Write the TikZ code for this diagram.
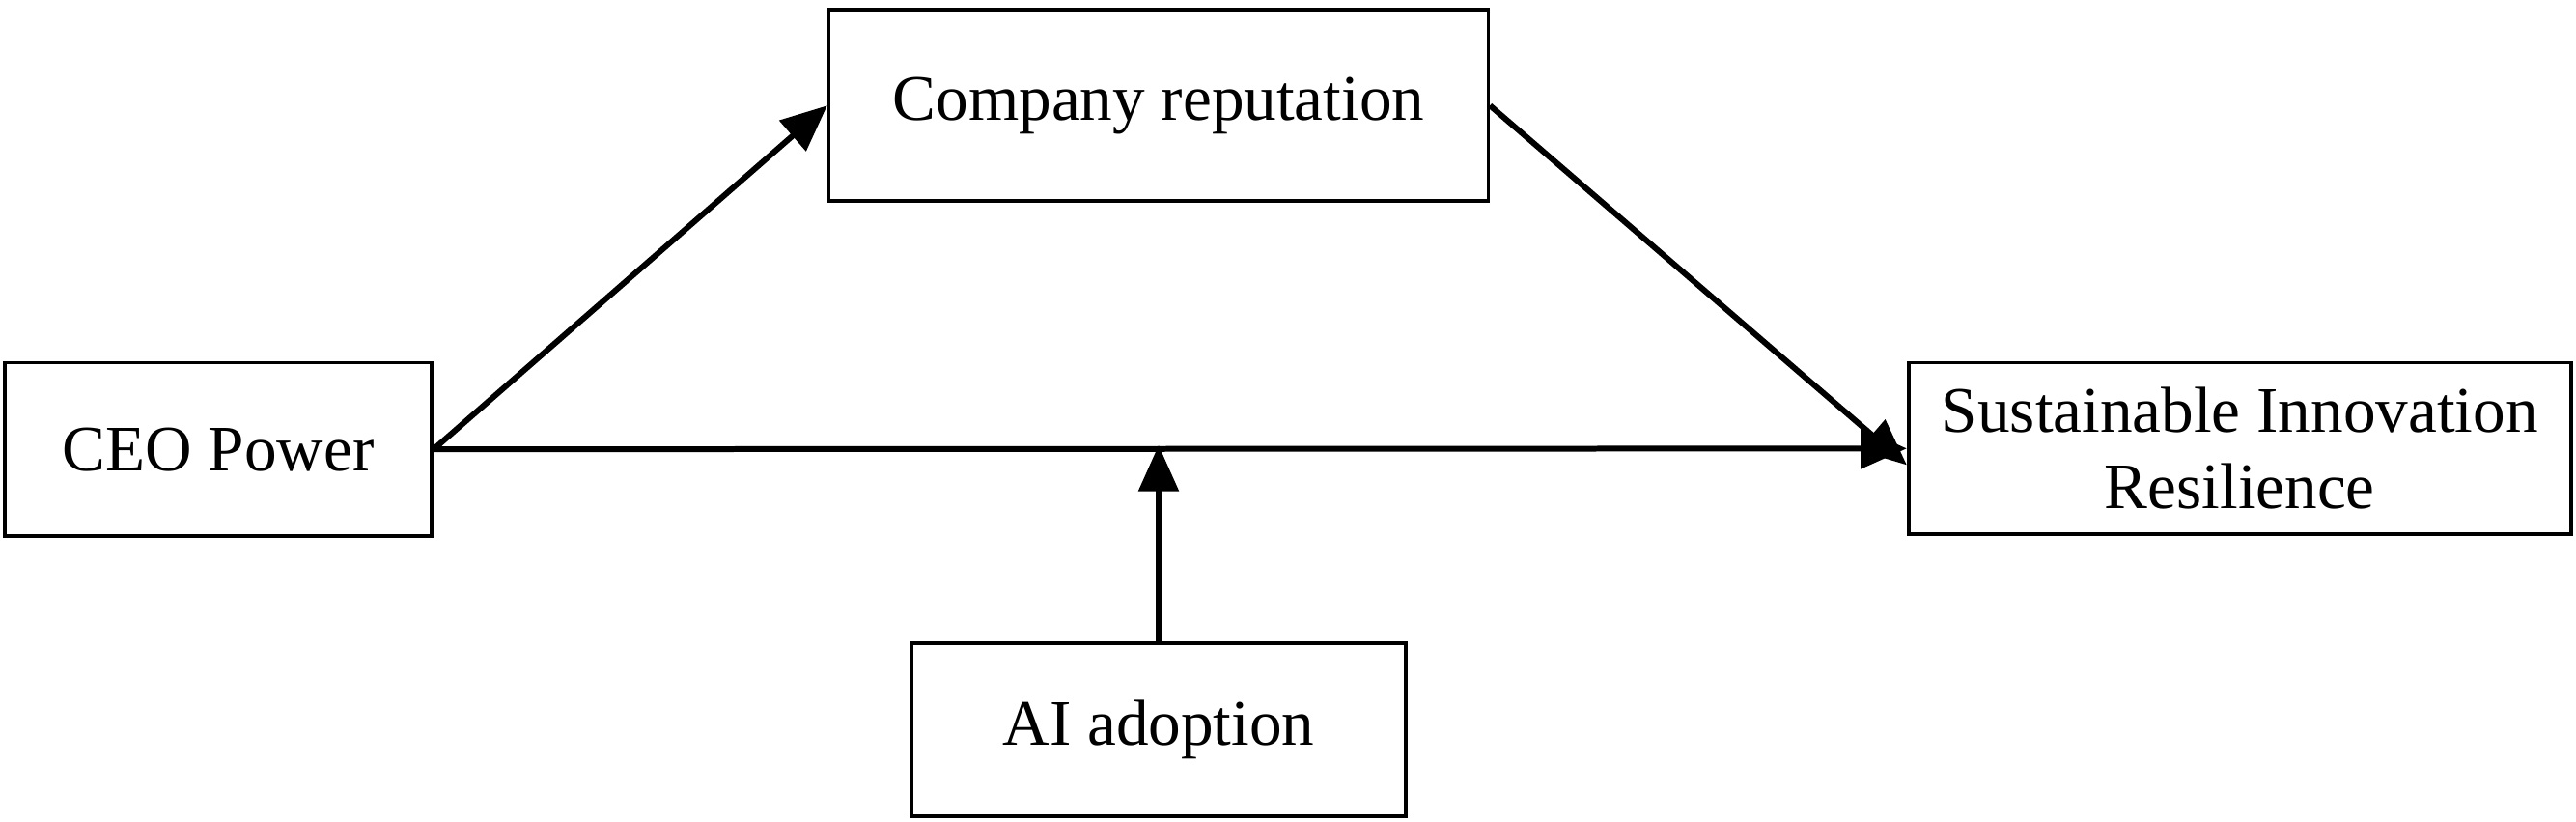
\documentclass[tikz,border=0pt]{standalone}
\usepackage{fontspec}
\setmainfont{Liberation Serif}
\usetikzlibrary{arrows.meta}
\begin{document}
\begin{tikzpicture}[x=0.1mm,y=-0.1mm,
  box/.style={draw,line width=0.6pt,inner sep=0pt,align=center,font=\fontsize{11.2pt}{13.2pt}\selectfont},
  arr/.style={line width=1pt,-{Triangle[length=2.8mm,width=2.4mm]}}]
\useasboundingbox (0,0) rectangle (1563,498);
\node[box,minimum width=40mm,minimum height=11.6mm] (cr) at (703,64) {Company reputation};
\node[box,minimum width=25.9mm,minimum height=10.5mm] (ceo) at (132.5,272.5) {CEO Power};
\node[box,minimum width=40.2mm,minimum height=10.4mm] (sir) at (1359,272) {Sustainable Innovation\\Resilience};
\node[box,minimum width=30mm,minimum height=10.5mm] (ai) at (703,442.5) {AI adoption};
\coordinate (m) at (703,270);
\draw[arr] (ceo.east) -- (sir.west);
\draw[arr] (ceo.east) -- (cr.west);
\draw[arr] (cr.east) -- ([yshift=-1mm]sir.west);
\draw[arr] (ai.north) -- (m);
\end{tikzpicture}
\end{document}
